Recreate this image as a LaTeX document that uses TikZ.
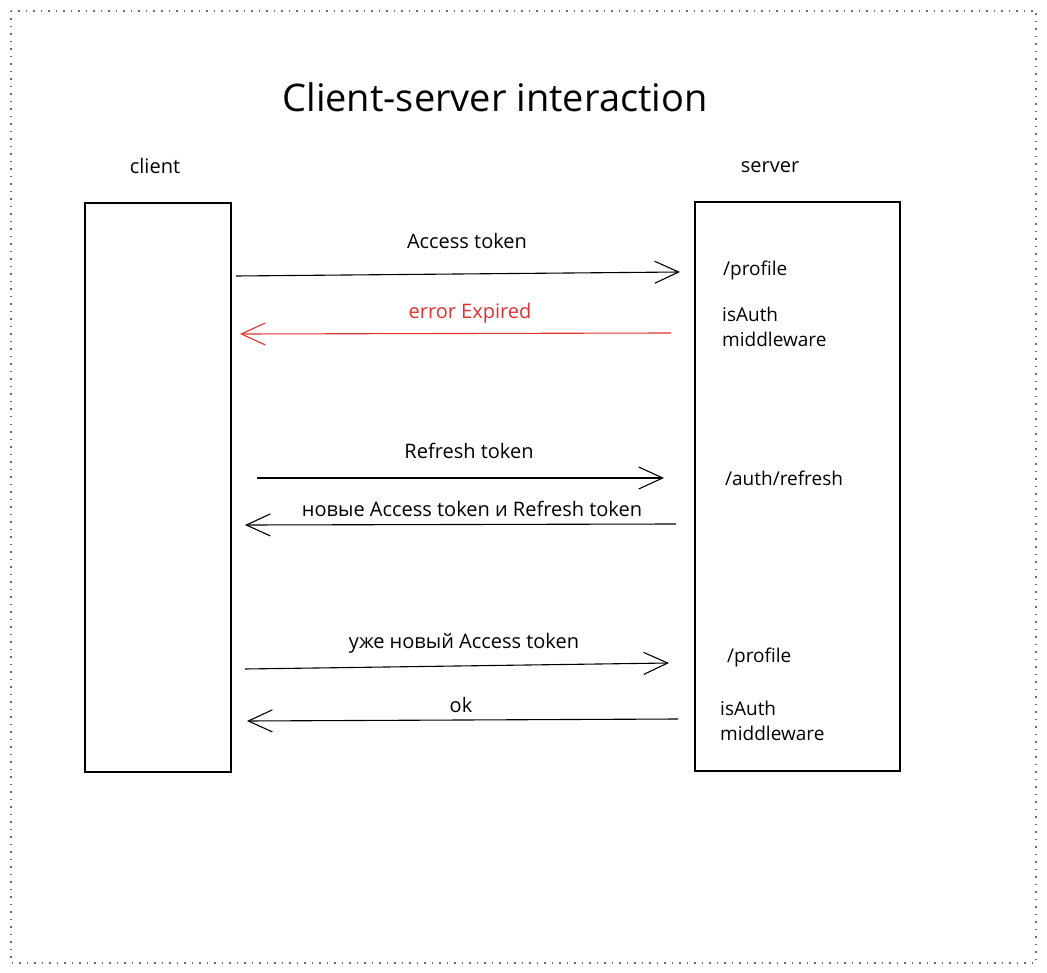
\documentclass[tikz,border=0pt]{standalone}
\usepackage{fontspec}
\setmainfont{Open Sans}
\usetikzlibrary{arrows.meta}
\definecolor{exred}{HTML}{E03131}
\tikzset{
  lbl/.style={font=\fontsize{20}{24}\selectfont, inner sep=0pt},
  side/.style={font=\fontsize{19}{25}\selectfont, inner sep=0pt, anchor=west, align=left},
  msg/.style={line width=1.1pt, -{Straight Barb[length=24pt,width=22pt,line width=1.1pt]}},
  lifebox/.style={draw, line width=1.3pt}
}
\begin{document}
\begin{tikzpicture}[x=1pt,y=-1pt]
\useasboundingbox (0,0) rectangle (1047,973);
\draw[gray!85!black, line width=1.2pt, dash pattern=on 1.5pt off 6pt] (11,11) rectangle (1036,963);
\node[font=\fontsize{38}{44}\selectfont, inner sep=0pt] (title) at (495,97) {Client-server interaction};
\node[lbl] (clientlbl) at (155,166) {client};
\node[lbl] (serverlbl) at (770,167) {server};
\node[lifebox, minimum width=146pt, minimum height=569pt, inner sep=0pt] (client) at (158,487.5) {};
\node[lifebox, minimum width=205pt, minimum height=569pt, inner sep=0pt] (server) at (797.5,486.5) {};
% server texts
\node[side] (p1) at (723,271) {/profile};
\node[side] (m1) at (722,327) {isAuth\\middleware};
\node[side] (r1) at (725,478) {/auth/refresh};
\node[side] (p2) at (727,658) {/profile};
\node[side] (m2) at (720,721) {isAuth\\middleware};
% arrow endpoints
\coordinate (a1s) at (236,276); \coordinate (a1e) at (680,272);
\coordinate (a2s) at (671,333); \coordinate (a2e) at (240,334);
\coordinate (a3s) at (257,478); \coordinate (a3e) at (664,478);
\coordinate (a4s) at (676,524); \coordinate (a4e) at (245,525);
\coordinate (a5s) at (245,669); \coordinate (a5e) at (669,663);
\coordinate (a6s) at (678,719); \coordinate (a6e) at (247,721);
\draw[msg] (a1s) -- (a1e);
\draw[msg, exred] (a2s) -- (a2e);
\draw[msg] (a3s) -- (a3e);
\draw[msg] (a4s) -- (a4e);
\draw[msg] (a5s) -- (a5e);
\draw[msg] (a6s) -- (a6e);
\node[lbl] (t1) at (467,241) {Access token};
\node[lbl, text=exred] (t2) at (470,313) {error Expired};
\node[lbl] (t3) at (469,451) {Refresh token};
\node[lbl] (t4) at (472,509) {новые Access token и Refresh token};
\node[lbl] (t5) at (464,643) {уже новый Access token};
\node[lbl] (t6) at (461,705) {ok};
\end{tikzpicture}
\end{document}
